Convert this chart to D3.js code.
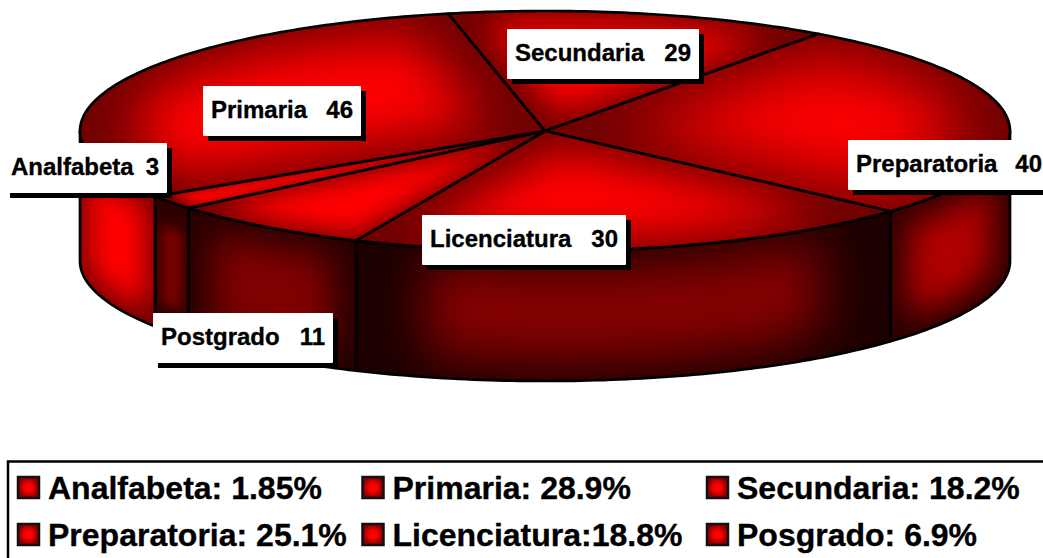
<!DOCTYPE html>
<html>
<head>
	<meta charset="utf-8">
	<script src="https://d3js.org/d3.v7.min.js"></script>
	<title>Nivel de estudios</title>
	<style>
		html, body { margin: 0; padding: 0; background: #fff; overflow: hidden; }
		text { font-family: "Liberation Sans", Arial, sans-serif; font-weight: bold; fill: #000; stroke: #000; stroke-width: 0.35px; }
	</style>
</head>
<body>
	<div id="chart"></div>

	<script type="text/javascript">
		// input data
		var categories = ["Analfabeta", "Primaria", "Secundaria", "Preparatoria", "Licenciatura", "Postgrado"];
		var labelValues = [3, 46, 29, 40, 30, 11];
		// the drawn wedges are not quite proportional to the labels, so the sweep (degrees) is measured
		var sliceSweep = [7, 111, 48, 96, 72, 26];
		var legendLabels = ["Analfabeta: 1.85%", "Primaria: 28.9%", "Secundaria: 18.2%",
							"Preparatoria: 25.1%", "Licenciatura:18.8%", "Posgrado: 6.9%"];

		// layout of the label boxes (left, top, width), same order as categories
		var labelBoxes = [[5, 143, 162], [203, 86, 158], [507, 29, 192], [848, 140, 202], [422, 215, 204], [153, 313, 180]];

		// side colours: edge and glow, then how far the glow shrinks and how soft it is
		var sideEdge = ["#300000", "#700000", "#300000", "#2a0000", "#1c0000", "#260000"];
		var sideGlow = ["#7a0000", "#ff0000", "#7a0000", "#b00000", "#860000", "#800000"];
		var sideShrink = [0.6, 0.8, 0.6, 0.72, 0.74, 0.72];
		var sideSoft = [6, 14, 6, 16, 26, 18];
		// top faces: same idea
		var topShrink = [0.9, 0.76, 0.78, 0.74, 0.76, 0.86];
		var topSoft = [5, 26, 17, 32, 22, 12];

		var svgwidth = 1043;
		var svgheight = 558;
		var depth = 130;
		var startAngle = 230 * Math.PI / 180;

		var svg = d3.select("#chart").append("svg")
				.attr("width", svgwidth)
				.attr("height", svgheight)
				.style("display", "block");
		var defs = svg.append("defs");

		var xScale = d3.scaleLinear().domain([-1, 1]).range([80, 1010]);
		var yScale = d3.scaleLinear().domain([-1, 1]).range([11, 251]);

		var pie = d3.pie().sort(null).value(function(d){ return d; })
				.startAngle(startAngle).endAngle(startAngle + 2 * Math.PI);
		var slices = pie(sliceSweep);

		var line = d3.line();

		// point of the rim for an angle, clockwise from 12 o'clock
		function rim(a, drop) {
			return [xScale(Math.sin(a)), yScale(-Math.cos(a)) + (drop || 0)];
		}
		function rimPoints(a0, a1, drop) {
			var n = Math.max(2, Math.ceil(Math.abs(a1 - a0) * 60));
			return d3.range(n + 1).map(function(i){ return rim(a0 + (a1 - a0) * i / n, drop); });
		}

		var blur = function(id, sd) {
			defs.append("filter").attr("id", id)
				.attr("filterUnits", "userSpaceOnUse")
				.attr("x", -200).attr("y", -200).attr("width", 1500).attr("height", 1000)
				.append("feGaussianBlur").attr("stdDeviation", sd);
		};

		// face with a soft glow: the base colour, then a shrunken blurred copy clipped to the face
		function glowFace(parent, id, pts, edge, glow, k, sd) {
			var d = line(pts) + "Z";
			defs.append("clipPath").attr("id", "clip" + id).append("path").attr("d", d);
			blur("blur" + id, sd);
			var c = d3.polygonCentroid(pts);
			var g = parent.append("g").attr("clip-path", "url(#clip" + id + ")");
			g.append("path").attr("d", d).attr("fill", edge);
			g.append("g").attr("filter", "url(#blur" + id + ")")
				.append("path").attr("d", d).attr("fill", glow)
				.attr("transform", "translate(" + c[0] + "," + c[1] + ") scale(" + k + ") translate(" + (-c[0]) + "," + (-c[1]) + ")");
			parent.append("path").attr("d", d).attr("fill", "none")
				.attr("stroke", "#000").attr("stroke-width", 2.7).attr("stroke-linejoin", "round");
		}

		/* sides: only the front half of the rim shows */
		var sides = svg.append("g");
		slices.forEach(function(s, i){
			var a0 = Math.max(s.startAngle, Math.PI / 2);
			var a1 = Math.min(s.endAngle, 3 * Math.PI / 2);
			var a2 = s.startAngle - 2 * Math.PI;
			var a3 = s.endAngle - 2 * Math.PI;
			if (a2 >= Math.PI / 2 || a3 > Math.PI / 2) { a0 = Math.max(a2, Math.PI / 2); a1 = Math.min(a3, 3 * Math.PI / 2); }
			if (a1 <= a0) return;
			var pts = rimPoints(a0, a1, 0).concat(rimPoints(a1, a0, depth));
			glowFace(sides, "side" + i, pts, sideEdge[i], sideGlow[i], sideShrink[i], sideSoft[i]);
		});

		/* top of the pie */
		var top_ = svg.append("g");
		slices.forEach(function(s, i){
			var pts = [[xScale(0), yScale(0)]].concat(rimPoints(s.startAngle, s.endAngle, 0));
			glowFace(top_, "top" + i, pts, "#700000", "#ff0000", topShrink[i], topSoft[i]);
		});

		/* labels with a hard shadow */
		var labels = svg.selectAll(".label").data(categories).enter().append("g").attr("class", "label")
				.attr("transform", function(d, i){ return "translate(" + labelBoxes[i][0] + "," + labelBoxes[i][1] + ")"; });
		labels.append("rect").attr("x", 5).attr("y", 5).attr("height", 50)
				.attr("width", function(d, i){ return labelBoxes[i][2]; }).attr("fill", "#000");
		labels.append("rect").attr("height", 50).attr("rx", 1)
				.attr("width", function(d, i){ return labelBoxes[i][2]; }).attr("fill", "#fff");
		labels.append("text").attr("x", function(d, i){ return i == 0 ? 6 : 8; }).attr("y", 32)
				.attr("font-size", 24).text(function(d){ return d; });
		labels.append("text").attr("x", function(d, i){ return labelBoxes[i][2] - 8; }).attr("y", 32)
				.attr("text-anchor", "end").attr("font-size", 24)
				.text(function(d, i){ return labelValues[i]; });

		/* legend */
		var swatchFill = defs.append("radialGradient").attr("id", "swatch");
		swatchFill.append("stop").attr("offset", "35%").attr("stop-color", "#ff0000");
		swatchFill.append("stop").attr("offset", "100%").attr("stop-color", "#800000");

		var colScale = d3.scalePoint().domain([0, 1, 2]).range([17, 706]);
		var rowScale = d3.scalePoint().domain([0, 1]).range([476, 523]);

		svg.append("rect").attr("x", 8).attr("y", 461.5).attr("width", 1100).attr("height", 200)
				.attr("fill", "none").attr("stroke", "#000").attr("stroke-width", 2.5);

		var items = svg.selectAll(".item").data(legendLabels).enter().append("g").attr("class", "item")
				.attr("transform", function(d, i){ return "translate(" + colScale(i % 3) + "," + rowScale(Math.floor(i / 3)) + ")"; });
		items.append("rect").attr("x", 1).attr("y", 1).attr("width", 21).attr("height", 21)
				.attr("fill", "url(#swatch)").attr("stroke", "#111").attr("stroke-width", 2.5);
		items.append("text").attr("x", 31).attr("y", 22.5).attr("font-size", 32)
				.text(function(d){ return d; });
	</script>
</body>
</html>
